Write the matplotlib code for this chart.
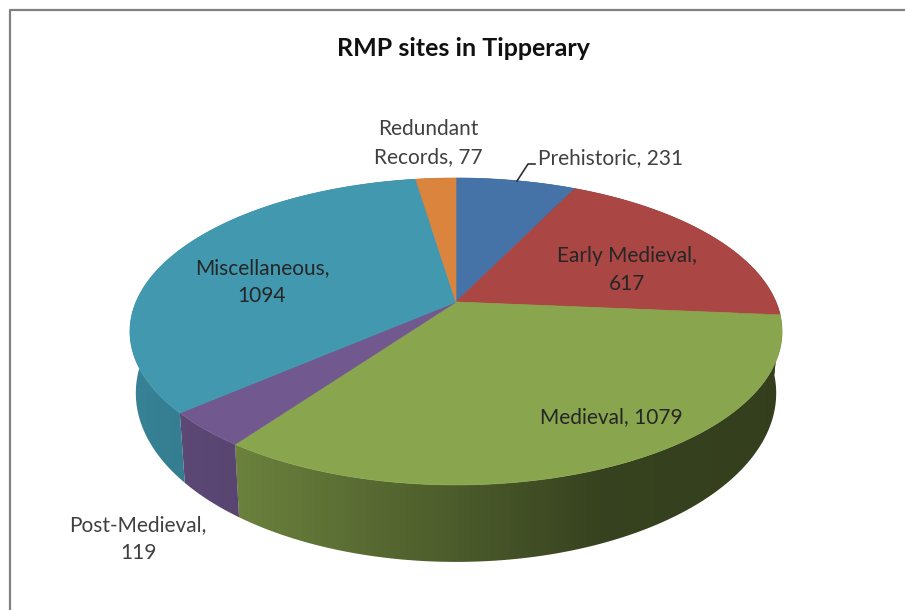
import numpy as np
import matplotlib
matplotlib.use('Agg')
import matplotlib.pyplot as plt
from matplotlib.colors import to_rgb
from matplotlib.patches import Polygon

categories = ['Prehistoric', 'Early Medieval', 'Medieval', 'Post-Medieval', 'Miscellaneous', 'Redundant Records']
values = [231, 617, 1079, 119, 1094, 77]
colors = ['#4572A7', '#AA4643', '#89A54E', '#71588F', '#4198AF', '#DB843D']

# label text, centre x, centre y, colour
labels = [
    ('Redundant\nRecords, 77', 428, 143, '#404040'),
    ('Early Medieval,\n617', 627, 270, '#262626'),
    ('Medieval, 1079', 611, 417, '#262626'),
    ('Post-Medieval,\n119', 138, 539, '#404040'),
    ('Miscellaneous,\n1094', 262, 282, '#262626'),
]

# perspective of the disc, in pixels
cx, cy = 456, 302
b, a, k = 320, 147.8, 0.192

def project(theta):
    d = 1 + k * np.cos(theta)
    return cx + b * np.sin(theta) / d, cy - a * np.cos(theta) / d

def drop(x, y):
    # lower rim of the wall, slightly smaller because it is further away
    return cx + (x - cx) * 0.982, y + 77 + (y - 485) * 0.1

def shade(x):
    return np.interp(x, [130, 240, 450, 600, 782], [0.86, 0.78, 0.56, 0.40, 0.38])

fig = plt.figure(figsize=(9.05, 6.1), dpi=100)
ax = fig.add_axes([0, 0, 1, 1])

plt.rcParams['font.family'] = ['Lato', 'DejaVu Sans']

# frame of the chart area
ax.plot([9.5, 9.5, 905], [610, 9.5, 9.5], color='#808080', lw=1.6)

edges = np.radians(np.cumsum([0] + values) / sum(values) * 360)

# wall first, a horizontal gradient clipped to each slice
grad_x = np.arange(0, 905) + 0.5
for i in range(len(values)):
    t = np.linspace(edges[i], edges[i + 1], 120)
    x, y = project(t)
    xb, yb = drop(x, y)
    grad = np.array(to_rgb(colors[i]))[None, None, :] * shade(grad_x)[None, :, None]
    im = ax.imshow(grad, extent=(0, 905, 610, 0), aspect='auto', interpolation='bilinear', zorder=2)
    wall = Polygon(np.c_[np.r_[x, xb[::-1]], np.r_[y, yb[::-1]]], transform=ax.transData)
    im.set_clip_path(wall)

# top of the pie
for i in range(len(values)):
    t = np.linspace(edges[i], edges[i + 1], 120)
    x, y = project(t)
    ax.fill(np.r_[cx, x], np.r_[cy, y], color=colors[i], lw=0.5, zorder=3)

ax.text(463, 48, 'RMP sites in Tipperary', fontsize=18, fontweight='bold', color='#111111',
        ha='center', va='center', zorder=5)

for text, x, y, col in labels:
    ax.text(x, y, text, fontsize=15, color=col, ha='center', va='center', linespacing=1.55, zorder=5)

ax.text(538, 158, 'Prehistoric, 231', fontsize=15, color='#404040', ha='left', va='center', zorder=5)

# leader line
ax.plot([517, 528, 535], [181, 164, 164], color='#303030', lw=1.2, zorder=4)

ax.set_xlim(0, 905)
ax.set_ylim(610, 0)
ax.axis('off')

fig.savefig('out.png', dpi=100)
